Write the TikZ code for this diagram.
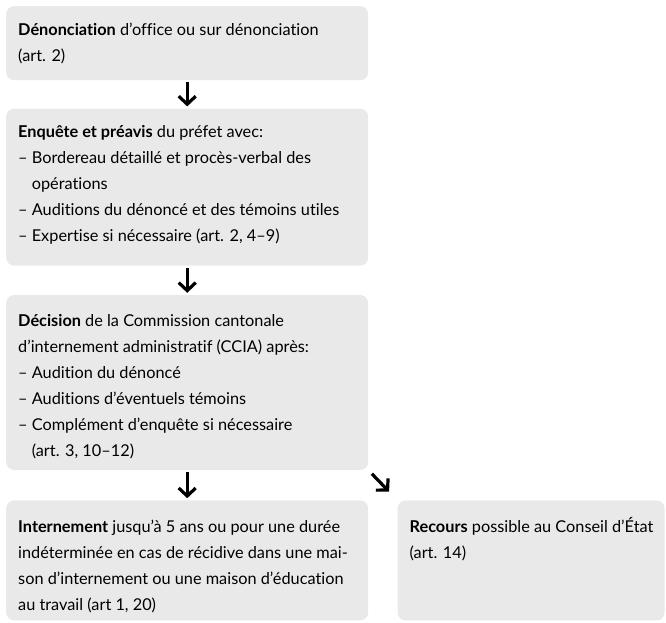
\documentclass[tikz,border=0pt]{standalone}
\usepackage{fontspec}
\setmainfont{Lato}[Ligatures=NoCommon]
\usetikzlibrary{arrows.meta,positioning}
\definecolor{gris}{RGB}{233,233,233}
\newcommand{\tiret}{–\ }
\newcommand{\retrait}{\phantom{–\ }}
\newcommand{\haut}{\rule{0pt}{18pt}}
\tikzset{
  boite/.style={fill=gris,rounded corners=8pt,inner sep=0pt},
  texte/.style={anchor=north west,align=left,inner sep=0pt,font=\fontsize{16.3pt}{26pt}\selectfont},
  fleche/.style={line width=3.2pt,-{Straight Barb[length=8pt,width=17pt]},shorten <=2pt,shorten >=2pt}
}
\begin{document}
\begin{tikzpicture}[x=1pt,y=1pt]
    \useasboundingbox (0,0) rectangle (666,-623);
    %% boxes
    \node[boite,anchor=north west,minimum width=362pt,minimum height=74pt] (denonciation) at (6,-6) {};
    \node[boite,below=28pt of denonciation,minimum width=362pt,minimum height=157pt] (enquete) {};
    \node[boite,below=29pt of enquete,minimum width=362pt,minimum height=175pt] (decision) {};
    \node[boite,below=30pt of decision,minimum width=362pt,minimum height=120pt] (internement) {};
    \node[boite,right=29pt of internement,minimum width=267pt,minimum height=120pt] (recours) {};
    %% texts (first baseline 18pt under the node top)
    \node[texte] (t-denonciation) at ([shift={(12,-11)}]denonciation.north west)
        {\haut\textbf{Dénonciation} d’office ou sur dénonciation\\(art. 2)};
    \node[texte] (t-enquete) at ([shift={(12,-11)}]enquete.north west)
        {\haut\textbf{Enquête et préavis} du préfet avec:\\
         \tiret Bordereau détaillé et procès-verbal des\\
         \retrait opérations\\
         \tiret Auditions du dénoncé et des témoins utiles\\
         \tiret Expertise si nécessaire (art. 2, 4–9)};
    \node[texte] (t-decision) at ([shift={(12,-13)}]decision.north west)
        {\haut\textbf{Décision} de la Commission cantonale\\
         d’internement administratif (CCIA) après:\\
         \tiret Audition du dénoncé\\
         \tiret Auditions d’éventuels témoins\\
         \tiret Complément d’enquête si nécessaire\\
         \retrait (art. 3, 10–12)};
    \node[texte] (t-internement) at ([shift={(12,-14)}]internement.north west)
        {\haut\textbf{Internement} jusqu’à 5 ans ou pour une durée\\
         indéterminée en cas de récidive dans une mai-\\
         son d’internement ou une maison d’éducation\\
         au travail (art 1, 20)};
    \node[texte] (t-recours) at ([shift={(12,-14)}]recours.north west)
        {\haut\textbf{Recours} possible au Conseil d’État\\(art. 14)};
    %% arrows
    \foreach \a/\b in {denonciation/enquete,enquete/decision,decision/internement}
        \draw[fleche] (\a) -- (\b);
    \draw[fleche,shorten <=5pt,shorten >=12pt] (decision.south east) -- (recours.north west);
\end{tikzpicture}
\end{document}
